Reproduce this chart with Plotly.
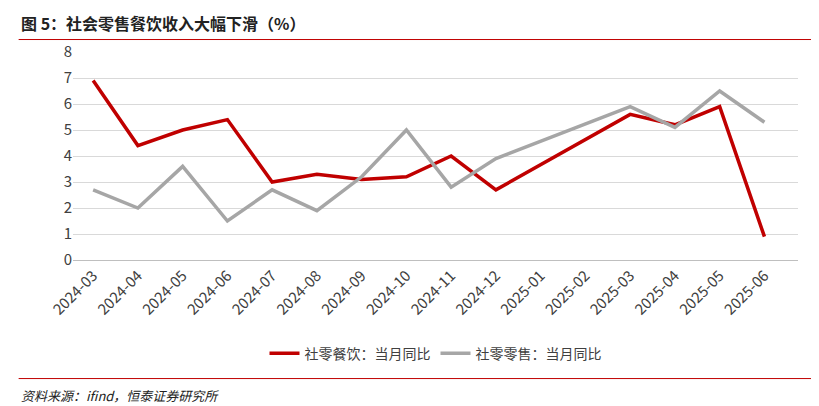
import plotly.graph_objects as go

months = ["2024-03", "2024-04", "2024-05", "2024-06", "2024-07", "2024-08", "2024-09",
          "2024-10", "2024-11", "2024-12", "2025-01", "2025-02", "2025-03", "2025-04",
          "2025-05", "2025-06"]
catering = [6.9, 4.4, 5.0, 5.4, 3.0, 3.3, 3.1, 3.2, 4.0, 2.7, None, None, 5.6, 5.2, 5.9, 0.9]
retail = [2.7, 2.0, 3.6, 1.5, 2.7, 1.9, 3.2, 5.0, 2.8, 3.9, None, None, 5.9, 5.1, 6.5, 5.3]

font = "Noto Sans CJK SC"

fig = go.Figure()
fig.add_trace(go.Scatter(x=months, y=catering, mode="lines", connectgaps=True,
                         name="社零餐饮：当月同比", line=dict(color="#C00000", width=3.5)))
fig.add_trace(go.Scatter(x=months, y=retail, mode="lines", connectgaps=True,
                         name="社零零售：当月同比", line=dict(color="#A6A6A6", width=3.5)))

fig.update_layout(
    width=819, height=406, paper_bgcolor="white", plot_bgcolor="white",
    margin=dict(l=65, r=29, t=44, b=154, autoexpand=False),
    font=dict(family=font, size=14, color="#404040"),
    showlegend=True,
    legend=dict(orientation="h", x=0.5, xanchor="center", y=-0.45, yanchor="middle",
                bgcolor="rgba(0,0,0,0)", font=dict(size=14, color="#404040")),
    xaxis=dict(type="category", tickangle=-45, showgrid=False, showline=True,
               range=[-0.45, 15.75], linecolor="#BFBFBF", ticks="", tickfont=dict(size=15)),
    yaxis=dict(range=[0, 8], dtick=1, showgrid=True, gridcolor="#D9D9D9",
               zeroline=False, ticks="", tickfont=dict(size=15)),
)
fig.add_annotation(text="<b>图 5：社会零售餐饮收入大幅下滑（%）</b>", xref="paper", yref="paper",
                   x=-0.075, y=1.14, xanchor="left", yanchor="middle", showarrow=False,
                   font=dict(size=16, color="#222222", family=font))
fig.add_annotation(text="<i>资料来源：ifind，恒泰证券研究所</i>", xref="paper", yref="paper",
                   x=-0.075, y=-0.65, xanchor="left", yanchor="middle", showarrow=False,
                   font=dict(size=13, color="#222222", family=font))
fig.add_shape(type="line", xref="paper", yref="paper", x0=-0.075, x1=1.03, y0=1.06, y1=1.06,
              line=dict(color="#C00000", width=1))
fig.add_shape(type="line", xref="paper", yref="paper", x0=-0.075, x1=1.03, y0=-0.57, y1=-0.57,
              line=dict(color="#C00000", width=1))

fig.write_html("out.html")
